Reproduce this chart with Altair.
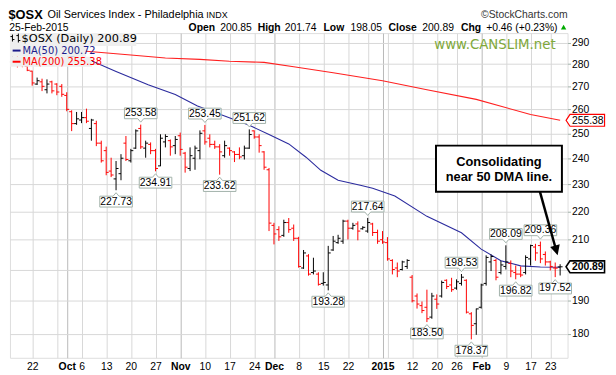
import altair as alt
import pandas as pd

# ---------------- data (trading-day index 0 = 22-Sep-2014) ----------------
bar_idx = list(range(-4, 108))
opens = [281, 282, 280.5, 279,
         276.8, 271, 272, 268.5, 272, 271, 270, 266, 259, 254, 255.5, 256.5, 252, 254, 246, 243, 235, 232, 234, 246,
         239, 244, 252, 244, 245.5, 243, 237, 246.5, 247, 245, 249, 242, 236, 240, 243, 251, 248, 245.5, 244.5, 241,
         244, 242.5, 241.5, 241, 244, 251, 248.5, 242.5, 235.5,
         215, 213.5, 211.5, 216, 214, 210.5, 200.5, 204.5, 199, 198.5, 195.5, 195, 206.5, 209, 209.5, 216.5, 214,
         215.5, 213.8, 213, 215.5, 212.5, 210, 209, 203, 200.5, 200, 201, 197.5, 191.5, 188.5, 188, 185, 190.5, 191.5,
         196.5, 195, 194, 195.5, 196.5, 186, 183, 188, 195.5, 202.5, 203, 199, 201, 202, 199, 198.5, 199, 203.5,
         207.5, 208, 205, 202.5, 200.5, 200.85]
highs = [283.5, 284, 282.5, 279.5,
         277, 273.9, 273.4, 273.1, 272.5, 271.4, 271, 267.4, 259.6, 258.9, 258.9, 260.3, 256, 255.2, 247, 244.6,
         240.2, 238.9, 241.6, 248.9, 243.7, 251.6, 253.58, 247, 246.3, 243.7, 249.6, 249.6, 247.5, 248.9, 250.3,
         242.5, 244.3, 245, 251.2, 253.45, 249.6, 247, 245.6, 247, 244.3, 242.8, 244.3, 245, 251.62, 251.2, 249.6,
         242.8, 236.2,
         215.9, 214.7, 217, 217.6, 215.3, 211, 206.5, 205.1, 203.9, 199.1, 199.1, 207.9, 211.3, 211.7, 217, 217,
         215.9, 216.4, 214.7, 217.64, 215.9, 213.5, 213, 210.9, 203.4, 202.3, 202.9, 203.4, 198.2, 192.3, 189.8,
         193.5, 192.5, 192, 196.4, 196.8, 197.3, 196.8, 198.53, 196.8, 186.5, 187.6, 195.4, 204.7, 205, 203.5,
         202.9, 208.09, 203, 201.3, 201, 204.7, 208.3, 208.6, 209.36, 206, 202.9, 202.3, 201.74]
lows = [279.5, 278.5, 278.6, 276.8,
        270.3, 270.6, 267.9, 266.9, 266.9, 266.1, 265.4, 259.2, 250.9, 253.5, 254.2, 254.2, 247, 244.8, 238.3, 233.4,
        232.7, 227.73, 231.5, 238.9, 238.3, 243.7, 243.7, 240.2, 241.6, 234.91, 236.9, 244.3, 241, 241.6, 241,
        234.4, 235, 235.5, 239.6, 245.4, 244.3, 243.7, 233.62, 240.2, 241, 238.5, 239.6, 239.5, 243.7, 247.8, 242.2,
        235.5, 213,
        208.4, 209.6, 211, 212.4, 209.6, 200.6, 200.2, 198, 198.4, 194.8, 194.8, 193.28, 206.2, 208.6, 208.6, 210.1,
        213.5, 209.8, 213.5, 212.4, 211.3, 208.6, 208.6, 202.9, 198.4, 197.5, 199.7, 200.2, 189.5, 187.6, 186.2,
        183.5, 184.5, 187.5, 191, 193.7, 192.8, 193.5, 194.8, 186.1, 178.37, 179.7, 187.6, 194.8, 199.5, 196.5,
        198.4, 200, 197.5, 196.82, 197.5, 198.4, 201.3, 202.9, 202.1, 201.3, 199.7, 197.52, 198.05]
closes = [282, 281, 280, 277.2,
          271.5, 272.5, 270, 271, 268, 267.5, 266.5, 260, 254, 256, 256.5, 255, 255.5, 246, 239, 234.5, 233.5, 236,
          240, 239.5, 243, 251, 244.5, 246, 243, 236, 248, 248.7, 244.5, 247.5, 243.5, 236.5, 241, 244, 250, 246.5,
          245.5, 244.5, 242.5, 245, 243, 241.5, 240.5, 244, 249.5, 248.5, 245, 236.5, 215.8,
          212, 211, 216, 213.5, 210.5, 201, 205.5, 198.5, 199.5, 195.2, 195.8, 205.5, 209.5, 210.5, 216.5, 214, 215,
          213, 214.3, 216, 212.5, 209.5, 209.2, 203.5, 200, 199.5, 202.5, 203, 190, 189, 187, 184.5, 191.5, 189,
          195.8, 194.5, 193.5, 196, 197.5, 186.5, 182.5, 187.5, 195, 204, 204.3, 197.5, 201.5, 202.5, 199.5, 198.5,
          198.2, 204, 208, 205.5, 203.5, 202.5, 201, 200.43, 200.89]

ma50_idx = [-4, 5, 12, 17, 23.5, 29, 33.5, 39, 44, 48, 52, 55.5, 58.5, 62, 66.5, 69, 73.5, 80, 87, 91, 95, 99, 103, 107]
ma50_val = [287, 285, 281.5, 276.6, 270.7, 266.4, 261.4, 257.2, 253.3, 249.5, 245.7, 240.4, 235.3, 231.5, 229.6,
            228.5, 225.6, 218.2, 212.4, 206.8, 202.9, 201.2, 200.8, 200.72]
ma200_idx = [-4, 11, 20, 27, 34, 40, 47, 53, 61, 71, 80, 90, 101, 107]
ma200_val = [287.2, 286.0, 284.2, 282.8, 282.2, 281.3, 280.8, 278.8, 276.1, 272.5, 268.5, 264.3, 257.8, 255.38]

tick_idx = [0, 5, 7, 10, 15, 20, 25, 30, 35, 40, 45, 49, 54, 59, 64, 68, 71, 72, 77, 82, 86, 91, 96, 101, 105]
tick_lbl = ["22", "", "Oct", "6", "13", "20", "27", "Nov", "10", "17", "24", "Dec", "8", "15", "22", "", "2015",
            "", "12", "20", "26", "Feb", "9", "17", "23"]
month_idx = [7, 30, 49, 71, 91]
y_ticks = [180, 190, 200, 210, 220, 230, 240, 250, 260, 270, 280, 290]

callout_idx = [17, 22, 25, 35, 38, 44, 60, 68, 80, 87, 89, 96, 98, 103, 106]
callout_val = [227.73, 253.58, 234.91, 253.45, 233.62, 251.62, 193.28, 217.64, 183.50, 198.53, 178.37, 208.09,
               196.82, 209.36, 197.52]
callout_kind = ["low", "high", "low", "high", "low", "high", "low", "high", "low", "high", "low", "high", "low",
                "high", "low"]

# ---------------- frames ----------------
df = pd.DataFrame({"i": bar_idx, "open": opens, "high": highs, "low": lows, "close": closes})
prev = df["close"].shift(1)
df["dir"] = ["up" if (pd.isna(p) or c >= p) else "down" for c, p in zip(df["close"], prev)]

ma50_df = pd.DataFrame({"i": ma50_idx, "v": ma50_val})
ma200_df = pd.DataFrame({"i": ma200_idx, "v": ma200_val})
co = pd.DataFrame({"i": callout_idx, "v": callout_val, "kind": callout_kind})
co["txt"] = [f"{v:.2f}" for v in co["v"]]

# ---------------- scales / axes ----------------
XS = alt.Scale(domain=[-4.5, 108.5], nice=False, zero=False)
YS = alt.Scale(type="log", domain=[173.07, 294.6], nice=False, zero=False)

idx_js = "[" + ",".join(str(v) for v in tick_idx) + "]"
lbl_js = "[" + ",".join("'" + s + "'" for s in tick_lbl) + "]"
mon_js = "[" + ",".join(str(v) for v in month_idx) + "]"
month_test = f"indexof({mon_js}, datum.value) >= 0"

XAX = alt.Axis(values=tick_idx, labelExpr=f"{lbl_js}[indexof({idx_js}, datum.value)]",
               grid=True, gridWidth=1,
               gridColor={"condition": {"test": month_test, "value": "#b9b9b9"}, "value": "#d7d7d7"},
               labelFontWeight={"condition": {"test": month_test, "value": "bold"}, "value": "normal"},
               ticks=False, domain=False, labelPadding=4, labelFont="Liberation Sans", labelFontSize=10.5,
               labelColor="#000000", labelOverlap=False, labelFlush=False, labelBound=False, title=None)
# the 200 label sits under the closing-price tag in the reference
YAX = alt.Axis(orient="right", values=y_ticks, labelExpr="datum.value == 200 ? '' : format(datum.value, 'd')",
               grid=True, gridColor="#d7d7d7", ticks=True,
               tickSize=3, tickColor="#9fb1a8", domain=False, labelPadding=1, labelFont="Liberation Sans",
               labelFontSize=10.5, labelColor="#000000", labelOverlap=False, labelFlush=False, labelBound=False,
               title=None)


def X(field="i"):
    return alt.X(f"{field}:Q", scale=XS, axis=XAX)


def Y(field):
    return alt.Y(f"{field}:Q", scale=YS, axis=YAX)


COL = alt.Color("dir:N", scale=alt.Scale(domain=["up", "down"], range=["#000000", "#ff0000"]), legend=None)

# ---------------- bars + MAs ----------------
ma200 = alt.Chart(ma200_df).mark_line(color="#ff2020", strokeWidth=1.1).encode(x=X(), y=Y("v"))
ma50 = alt.Chart(ma50_df).mark_line(color="#2b2b9e", strokeWidth=1.1).encode(x=X(), y=Y("v"))
hl = alt.Chart(df).mark_rule(strokeWidth=1).encode(x=X(), y=Y("low"), y2="high:Q", color=COL)
op = alt.Chart(df).mark_rule(strokeWidth=1, xOffset=-2.5).encode(x=X(), x2="i:Q", y=Y("open"), color=COL)
cl = alt.Chart(df).mark_rule(strokeWidth=1, x2Offset=2.5).encode(x=X(), x2="i:Q", y=Y("close"), color=COL)

# ---------------- callouts ----------------
PATH_HI = "M-0.6875,-0.7083L0.6875,-0.7083L0.6875,-0.25L0.125,-0.25L0,-0.1042L-0.125,-0.25L-0.6875,-0.25Z"
PATH_LO = "M-0.6875,0.7083L0.6875,0.7083L0.6875,0.25L0.125,0.25L0,0.1042L-0.125,0.25L-0.6875,0.25Z"
hi = co[co["kind"] == "high"]
lo = co[co["kind"] == "low"]
box_hi = alt.Chart(hi).mark_point(shape=PATH_HI, size=2304, filled=True, fill="white", stroke="#a2b2aa",
                                  strokeWidth=1, opacity=1).encode(x=X(), y=Y("v"))
box_lo = alt.Chart(lo).mark_point(shape=PATH_LO, size=2304, filled=True, fill="white", stroke="#a2b2aa",
                                  strokeWidth=1, opacity=1).encode(x=X(), y=Y("v"))
txt_hi = alt.Chart(hi).mark_text(dy=-11.5, font="Liberation Sans", fontSize=10.5, color="#000000").encode(
    x=X(), y=Y("v"), text="txt:N")
txt_lo = alt.Chart(lo).mark_text(dy=11.5, font="Liberation Sans", fontSize=10.5, color="#000000").encode(
    x=X(), y=Y("v"), text="txt:N")


# ---------------- helpers for annotations ----------------
def one(s="x"):
    return pd.DataFrame({"t": [s]})


def label(s, x, y, size=10.5, weight="normal", color="#000000", align="left", font="Liberation Sans",
          baseline="alphabetic"):
    return alt.Chart(one(s)).mark_text(align=align, baseline=baseline, font=font, fontSize=size,
                                       fontWeight=weight, color=color).encode(
        x=alt.value(x), y=alt.value(y), text="t:N")


def box(x1, x2, y1, y2, fill, stroke=None, sw=0):
    kw = dict(fill=fill, strokeWidth=sw)
    if stroke:
        kw["stroke"] = stroke
    return alt.Chart(one()).mark_rect(**kw).encode(
        x=alt.value(x1), x2=alt.value(x2), y=alt.value(y1), y2=alt.value(y2))


def seg(x1, x2, y1, y2, color, w):
    return alt.Chart(one()).mark_rule(color=color, strokeWidth=w).encode(
        x=alt.value(x1), x2=alt.value(x2), y=alt.value(y1), y2=alt.value(y2))


PLOTBG = "#efefef"

# in-plot legend (opaque blocks)
leg = [
    box(0, 128, 0, 13, PLOTBG),
    box(0, 77, 13, 24, PLOTBG),
    box(0, 83, 24, 34, PLOTBG),
    alt.Chart(one()).mark_point(
        shape="M-0.6,-0.8L-0.6,0.6M-1,-0.4L-0.6,-0.4M-0.6,0.2L-0.2,0.2M0.6,-1L0.6,0.8M0.2,-0.6L0.6,-0.6M0.6,0.4L1,0.4",
        size=100, filled=False, stroke="#000000", strokeWidth=1, opacity=1).encode(x=alt.value(5.5), y=alt.value(5.5)),
    label("$OSX (Daily) 200.89", 11.7, 9.5, size=11.5, font="DejaVu Sans"),
    seg(2.7, 10.7, 17.7, 17.7, "#1c1c8c", 2),
    label("MA(50) 200.72", 12.7, 18.3, size=10, font="DejaVu Sans", color="#1c1c8c", baseline="middle"),
    seg(2.7, 10.7, 29, 29, "#ff0000", 2),
    label("MA(200) 255.38", 12.7, 29.3, size=10, font="DejaVu Sans", color="#ff0000", baseline="middle"),
    label("www.CANSLIM.net", 553, 12, size=13.5, font="DejaVu Sans", color="#7fa83a", align="right",
          baseline="middle"),
]

# annotation box + arrow
ann = [
    box(431.7, 559.3, 114, 160.7, "white", "#000000", 2),
    label("Consolidating", 495.5, 131, size=13, weight="bold", font="Liberation Sans Narrow, Liberation Sans",
          align="center", baseline="middle"),
    label("near 50 DMA line.", 495.5, 145.5, size=13, weight="bold", font="Liberation Sans Narrow, Liberation Sans",
          align="center", baseline="middle"),
    seg(537, 552.5, 160.7, 216.5, "#000000", 2.5),
    alt.Chart(one()).mark_point(shape="M0,0L-0.5,-1L0.5,-1Z", size=400, angle=344, filled=True,
                                color="#000000", opacity=1).encode(x=alt.value(555), y=alt.value(225)),
]

# right-hand price tags
TAG = "M0,0L0.1,-0.15L0.975,-0.15L0.975,0.15L0.1,0.15Z"
tag200 = pd.DataFrame({"v": [255.38], "txt": ["255.38"]})
tagcl = pd.DataFrame({"v": [200.89], "txt": ["200.89"]})
tags = [
    alt.Chart(tag200).mark_point(shape=TAG, size=6400, filled=True, fill="white", stroke="#ff0000",
                                 strokeWidth=1.2, opacity=1).encode(x=alt.value(563.5), y=Y("v")),
    alt.Chart(tag200).mark_text(font="Liberation Sans", fontSize=10.5, color="#000000", dy=0.5).encode(
        x=alt.value(585.5), y=Y("v"), text="txt:N"),
    alt.Chart(tagcl).mark_point(shape=TAG, size=6400, filled=True, fill="white", stroke="#000000",
                                strokeWidth=1.6, opacity=1).encode(x=alt.value(563.5), y=Y("v")),
    alt.Chart(tagcl).mark_text(font="Liberation Sans", fontSize=10.5, fontWeight="bold", color="#000000",
                               dy=0.5).encode(x=alt.value(585.5), y=Y("v"), text="txt:N"),
]

# header
R2 = -2.5
hdr = [
    label("$OSX", -1.5, -14, size=13, weight="bold"),
    label("Oil Services Index - Philadelphia", 38, -15, size=11),
    label("INDX", 199, -15, size=9),
    label("\u00a9StockCharts.com", 565, -15.5, size=10.5, color="#333333", align="right"),
    label("25-Feb-2015", -0.7, R2, size=10.5),
    label("Open", 181, R2, size=10.5, weight="bold"),
    label("200.85", 213, R2, size=10.5),
    label("High", 251, R2, size=10.5, weight="bold"),
    label("201.74", 278.5, R2, size=10.5),
    label("Low", 317.7, R2, size=10.5, weight="bold"),
    label("198.05", 345, R2, size=10.5),
    label("Close", 383.6, R2, size=10.5, weight="bold"),
    label("200.89", 417.8, R2, size=10.5),
    label("Chg", 457, R2, size=10.5, weight="bold"),
    label("+0.46 (+0.23%)", 482.5, R2, size=10.5),
    alt.Chart(one()).mark_point(shape="triangle-up", size=30, filled=True, color="#00aa00", opacity=1).encode(
        x=alt.value(561), y=alt.value(-6)),
]

chart = alt.layer(
    ma200, ma50, hl, op, cl, box_hi, box_lo, txt_hi, txt_lo, *leg, *ann, *tags, *hdr
).properties(
    width=565, height=329,
    autosize=alt.AutoSizeParams(type="none"),
    padding={"left": 2, "top": 23, "right": 41, "bottom": 15},
).configure_view(
    fill=PLOTBG, stroke="#9fb1a8", strokeWidth=1
).configure(background="white")

chart.save("out.html", embed_options={"renderer": "svg", "actions": False})
